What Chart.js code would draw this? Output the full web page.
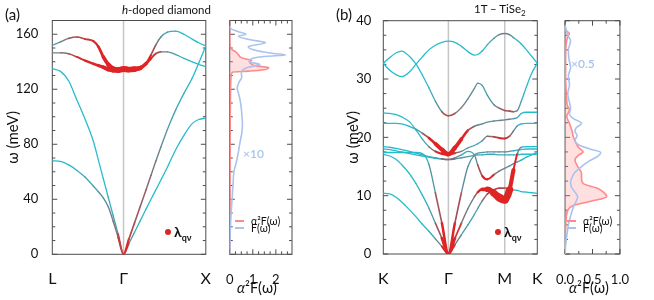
<!DOCTYPE html>
<html>
<head>
<meta charset="utf-8">
<script src="https://cdn.jsdelivr.net/npm/chart.js@4.4.0/dist/chart.umd.min.js"></script>
<style>
  html, body { margin: 0; padding: 0; background: #fff; }
  #fig { position: relative; width: 654px; height: 300px; overflow: hidden;
         font-family: Lato, "Noto Sans", sans-serif; color: #111; }
  #fig canvas { position: absolute; top: 0; }
  .lbl { position: absolute; white-space: nowrap; line-height: 1; z-index: 5; }
  .dot { position: absolute; width: 6px; height: 6px; border-radius: 50%; background: #dc2424; z-index: 5; }
  .key { position: absolute; height: 2px; width: 9px; z-index: 5; }
</style>
</head>
<body>
<div id="fig">
  <canvas id="bandA" width="220" height="300" style="left:0"></canvas>
  <canvas id="dosA"  width="90"  height="300" style="left:215px"></canvas>
  <canvas id="bandB" width="212" height="300" style="left:340px"></canvas>
  <canvas id="dosB"  width="95"  height="300" style="left:545px"></canvas>

  <div class="lbl" style="left:5px;top:7px;font-size:15px">(a)</div>
  <div class="lbl" style="left:122px;top:4px;font-size:11.5px"><i>h</i>-doped diamond</div>
  <div class="lbl" style="left:336px;top:7px;font-size:15px">(b)</div>
  <div class="lbl" style="left:474px;top:3px;font-size:11.5px">1T – TiSe<sub style="font-size:8px">2</sub></div>

  <div class="dot" style="left:165px;top:229px"></div>
  <div class="lbl" style="left:174px;top:225px;font-size:14px;font-weight:bold">λ<sub style="font-size:9px">qν</sub></div>
  <div class="dot" style="left:495px;top:229px"></div>
  <div class="lbl" style="left:504px;top:225px;font-size:14px;font-weight:bold">λ<sub style="font-size:9px">qν</sub></div>

  <div class="lbl" style="left:243px;top:148px;font-size:12px;color:#a9c3ee;font-weight:600">×10</div>
  <div class="lbl" style="left:571px;top:58px;font-size:12px;color:#a9c3ee;font-weight:600">×0.5</div>

  <div class="key" style="left:235px;top:220px;background:#ff8a8a"></div>
  <div class="lbl" style="left:251px;top:216px;font-size:10.5px">α²F(ω)</div>
  <div class="key" style="left:235px;top:227px;background:#a9c3ee"></div>
  <div class="lbl" style="left:251px;top:223px;font-size:10.5px">F(ω)</div>

  <div class="key" style="left:567px;top:220px;background:#ff8a8a"></div>
  <div class="lbl" style="left:583px;top:216px;font-size:10.5px">α²F(ω)</div>
  <div class="key" style="left:567px;top:227px;background:#a9c3ee"></div>
  <div class="lbl" style="left:583px;top:223px;font-size:10.5px">F(ω)</div>

  <div class="lbl" style="left:237px;top:281px;font-size:14.5px"><i>α</i>²F(ω)</div>
  <div class="lbl" style="left:569px;top:281px;font-size:14.5px"><i>α</i>²F(ω)</div>
</div>

<script>
'use strict';

/* ---- Panel (a): h-doped diamond, path L - Γ - X ---- */
const kPathA   = [0, 0.1, 0.2, 0.3, 0.4, 0.5, 0.56, 0.62, 0.68, 0.74, 0.8, 0.866,
                  0.93, 1.0, 1.07, 1.14, 1.2, 1.26, 1.32, 1.4, 1.5, 1.6, 1.7, 1.78, 1.866];
const kTicksA  = [0, 0.866, 1.866];
const kLabelsA = ['L', 'Γ', 'X'];

const taA = [68, 67.5, 65, 61, 56, 49.5, 45.5, 41, 34.5, 24, 12.5, 0,
             7.7, 16, 24.5, 33, 40, 47, 54, 63.5, 76, 86.5, 95, 98, 99];
const laA = [135, 133, 126, 112, 98, 82, 68.5, 55, 41.5, 28, 14.8, 0,
             11, 23, 35, 47, 57.5, 68, 78, 91, 105, 117, 128, 139, 151.5];
const toA = [146.5, 146.5, 145.8, 143.5, 140.8, 138.5, 137.3, 136, 134.5, 134, 134, 134.5,
             134.2, 134.5, 135.5, 138.5, 142.5, 146, 147.2, 147.2, 145.2, 142.5, 140, 138, 136.5];
const loA = [152, 154.5, 157, 158, 156.5, 155, 151, 143.5, 138, 135, 134, 135,
             134.5, 135, 135.5, 139, 145, 152.5, 158, 161.5, 162.3, 160, 156.5, 153.8, 151.5];

// electron-phonon coupling strength λqν along each branch
const lamTaA = [0, 0, 0, 0.02, 0.04, 0.06, 0.08, 0.1, 0.12, 0.15, 0.2, 0.45,
                0.15, 0.05, 0.02, 0, 0, 0, 0, 0, 0, 0, 0, 0, 0];
const lamLaA = [0, 0, 0, 0, 0, 0, 0, 0, 0.02, 0.05, 0.1, 0.45,
                0.3, 0.25, 0.22, 0.2, 0.18, 0.15, 0.12, 0.08, 0.05, 0.03, 0.01, 0, 0];
const lamToA = [0.1, 0.15, 0.22, 0.3, 0.38, 0.46, 0.55, 0.65, 0.75, 0.83, 0.88, 0.9,
                0.88, 0.83, 0.72, 0.55, 0.38, 0.28, 0.2, 0.12, 0.06, 0.02, 0, 0, 0];
const lamLoA = [0.05, 0.1, 0.2, 0.26, 0.3, 0.34, 0.45, 0.6, 0.72, 0.8, 0.85, 0.88,
                0.85, 0.78, 0.68, 0.48, 0.3, 0.2, 0.1, 0.05, 0.02, 0, 0, 0, 0];

/* ---- Panel (a) DOS ---- */
const a2fOmegaA = [0, 20, 40, 60, 80, 100, 115, 125, 130, 132.5, 133.2, 134, 135.7, 137,
                   138.9, 140, 141, 142, 143, 145, 147.4, 148.6, 151, 155, 170];
const a2fA      = [0, 0.005, 0.01, 0.01, 0.015, 0.02, 0.03, 0.04, 0.06, 0.12, 0.8, 1.4, 1.69, 1.15,
                   0.9, 0.85, 0.95, 0.7, 0.5, 0.38, 0.25, 0.11, 0.02, 0, 0];
const dosOmegaA = [0, 10, 20, 30, 40, 50, 60, 68, 75, 82, 88, 95, 100, 106, 112, 117, 121, 125,
                   129, 132, 134, 136, 138, 140, 142.5, 144, 145, 146, 148, 151, 153.8, 156,
                   158.6, 160, 162, 164, 166];
const dosA      = [0, 0.01, 0.03, 0.06, 0.1, 0.14, 0.18, 0.3, 0.38, 0.45, 0.52, 0.55, 0.53, 0.5,
                   0.45, 0.38, 0.32, 0.4, 0.52, 0.5, 0.55, 0.8, 1.3, 0.85, 1.0, 1.6, 2.42, 1.9,
                   1.2, 0.8, 1.55, 0.9, 0.38, 0.7, 0.35, 0.05, 0];

/* ---- Panel (b): 1T-TiSe2, path K - Γ - M - K ---- */
const kPathB   = [0, 0.1, 0.2, 0.283, 0.4, 0.5, 0.6, 0.7, 0.8, 0.9, 1.0, 1.1, 1.2, 1.3,
                  1.4, 1.45, 1.52, 1.6, 1.7, 1.78, 1.866, 1.94, 2.0, 2.06, 2.12, 2.2, 2.28, 2.366];
const kTicksB  = [0, 1.0, 1.866, 2.366];
const kLabelsB = ['K', 'Γ', 'M', 'K'];

const a2uB = [32.7, 31.5, 30.7, 30.4, 31.2, 32.5, 33.8, 35.0, 35.8, 36.3, 36.5, 36.3, 35.6, 34.7,
              34.1, 34.2, 34.8, 35.9, 37.0, 37.6, 37.8, 37.6, 37.1, 36.6, 36.0, 35.0, 33.9, 32.7];
const a1gB = [32.7, 33.7, 34.5, 34.8, 33.9, 32.6, 30.7, 28.5, 26.2, 24.4, 23.7, 24.1, 25.1, 26.6,
              28.4, 29.3, 28.9, 27.2, 25.6, 25.0, 24.6, 24.5, 24.4, 24.6, 26.2, 28.7, 31.0, 32.7];
const euaB = [22.4, 22.4, 22.4, 22.3, 21.9, 21.4, 20.7, 19.9, 18.9, 17.9, 17.1, 18.2, 19.7, 21.2,
              21.9, 22.1, 22.3, 22.6, 22.8, 22.9, 23.0, 23.1, 23.2, 23.4, 24.1, 24.3, 24.3, 24.3];
const eubB = [24.2, 24.1, 23.9, 23.5, 22.7, 21.3, 19.7, 18.4, 17.6, 17.2, 17.1, 17.3, 17.6, 18.2,
              18.6, 18.9, 19.4, 20.2, 20.1, 19.9, 19.8, 20.2, 21.1, 22.0, 22.3, 22.4, 22.4, 22.4];
const egaB = [18.4, 18.3, 18.1, 17.9, 17.6, 17.3, 17.0, 16.7, 16.5, 16.3, 16.2, 16.3, 16.5, 16.7,
              16.9, 17.0, 17.0, 17.1, 17.1, 17.0, 17.0, 17.0, 17.0, 17.0, 17.1, 17.1, 17.1, 17.1];
const egbB = [18.0, 17.9, 17.7, 17.5, 17.2, 17.0, 16.8, 16.6, 16.4, 16.3, 16.2, 16.5, 17.0, 17.6,
              17.0, 15.3, 13.4, 12.8, 13.6, 14.2, 14.7, 15.1, 15.5, 15.8, 16.1, 16.6, 17.0, 17.4];
const laB  = [17.4, 17.4, 17.4, 17.4, 17.4, 17.4, 17.2, 15.4, 10.5, 5.3, 0, 5.3, 10.5, 15.0,
              17.0, 17.3, 17.4, 17.5, 17.5, 17.5, 17.5, 17.6, 17.7, 17.8, 17.9, 18.0, 18.0, 18.0];
const ta2B = [17.1, 16.8, 16.2, 15.3, 13.8, 12.1, 10.1, 7.9, 5.3, 2.7, 0, 2.7, 5.3, 7.8,
              9.8, 10.6, 11.1, 11.1, 10.4, 9.7, 9.3, 11.0, 14.4, 17.2, 18.3, 18.4, 18.4, 18.4];
const ta1B = [10.4, 10.3, 9.7, 8.9, 7.6, 6.4, 5.1, 3.9, 2.6, 1.3, 0, 1.6, 3.3, 5.0,
              6.8, 7.8, 9.1, 10.3, 11.0, 11.3, 11.3, 11.2, 11.0, 10.9, 10.7, 10.6, 10.5, 10.4];

const lamA2uB = [0, 0, 0, 0, 0, 0, 0, 0, 0, 0, 0, 0, 0, 0,
                 0, 0, 0, 0.02, 0.06, 0.12, 0.18, 0.12, 0.06, 0.02, 0, 0, 0, 0];
const lamA1gB = [0, 0, 0, 0, 0, 0, 0, 0.02, 0.05, 0.15, 0.35, 0.2, 0.12, 0.12,
                 0.1, 0.1, 0.08, 0.06, 0.1, 0.18, 0.25, 0.25, 0.2, 0.12, 0.05, 0, 0, 0];
const lamEuaB = [0, 0, 0, 0, 0, 0.03, 0.12, 0.35, 0.6, 0.75, 0.8, 0.75, 0.6, 0.35,
                 0.15, 0.12, 0.1, 0.1, 0.1, 0.12, 0.15, 0.12, 0.1, 0.05, 0, 0, 0, 0];
const lamEubB = [0, 0, 0, 0, 0, 0, 0.02, 0.08, 0.25, 0.45, 0.6, 0.3, 0.12, 0.06,
                 0.05, 0.05, 0.08, 0.15, 0.25, 0.35, 0.35, 0.25, 0.12, 0.05, 0, 0, 0, 0];
const lamEgaB = [0, 0, 0, 0, 0, 0, 0, 0, 0.05, 0.15, 0.3, 0.15, 0.08, 0.08,
                 0.08, 0.06, 0.05, 0.05, 0.05, 0.05, 0.05, 0.03, 0, 0, 0, 0, 0, 0];
const lamEgbB = [0, 0, 0, 0, 0, 0, 0, 0, 0.03, 0.1, 0.25, 0.1, 0.05, 0.05,
                 0.08, 0.15, 0.35, 0.45, 0.25, 0.15, 0.12, 0.1, 0.08, 0.05, 0.03, 0, 0, 0];
const lamLaB  = [0, 0, 0, 0, 0, 0, 0, 0.05, 0.12, 0.35, 0.6, 0.35, 0.15, 0.08,
                 0.08, 0.08, 0.08, 0.08, 0.1, 0.12, 0.12, 0.1, 0.05, 0, 0, 0, 0, 0];
const lamTa2B = [0, 0, 0, 0, 0, 0, 0.02, 0.05, 0.12, 0.35, 0.7, 0.4, 0.2, 0.12,
                 0.15, 0.3, 0.55, 0.8, 1.0, 1.1, 1.15, 0.95, 0.5, 0.2, 0.05, 0, 0, 0];
const lamTa1B = [0, 0, 0, 0, 0, 0, 0, 0.02, 0.06, 0.2, 0.5, 0.2, 0.08, 0.05,
                 0.05, 0.08, 0.12, 0.25, 0.3, 0.28, 0.25, 0.15, 0.06, 0.02, 0, 0, 0, 0];

/* ---- Panel (b) DOS ---- */
const a2fOmegaB = [0, 2, 4, 6, 7.5, 8.3, 9.0, 9.8, 10.6, 11.3, 12.1, 13.0, 13.8, 15.0, 16.1, 17.0,
                   17.5, 18.2, 19.0, 20.1, 21.0, 22.4, 23.6, 24.7, 25.5, 26.4, 28, 30, 32, 34,
                   36, 37.3, 37.8, 38.4, 39];
const a2fB      = [0, 0.005, 0.01, 0.02, 0.05, 0.15, 0.45, 0.76, 0.7, 0.58, 0.33, 0.3, 0.3, 0.23,
                   0.18, 0.25, 0.33, 0.25, 0.2, 0.15, 0.13, 0.08, 0.03, 0.08, 0.04, 0.03, 0.02,
                   0.01, 0.01, 0.01, 0.02, 0.05, 0.08, 0.01, 0];
const dosOmegaB = [0, 1.5, 3, 5, 6.5, 8, 9, 9.8, 10.6, 11.4, 12.2, 13, 14, 15, 16, 16.8, 17.4, 18,
                   18.7, 19.5, 20.3, 21, 21.6, 22.4, 23.2, 24, 25, 26, 27.5, 29, 30.5, 32, 33.5,
                   35, 36.5, 37.5, 38.5, 39.3];
const dosB      = [0, 0.01, 0.03, 0.06, 0.1, 0.15, 0.2, 0.23, 0.18, 0.12, 0.1, 0.12, 0.18, 0.3,
                   0.45, 0.6, 0.65, 0.45, 0.25, 0.18, 0.22, 0.18, 0.2, 0.3, 0.15, 0.08, 0.1, 0.08,
                   0.05, 0.08, 0.06, 0.1, 0.07, 0.06, 0.1, 0.05, 0.02, 0];

/* ---- Styling ---- */
const CYAN = [38, 188, 204];
const RED  = [222, 36, 36];
const PINK = '#ff8a8a';
const PINK_FILL = 'rgba(255,150,150,0.3)';
const BLUE = '#a9c3ee';
const FONT = 'Lato, "Noto Sans", sans-serif';

Chart.defaults.font.family = FONT;
Chart.defaults.color = '#111';

function lamColor(l) {
  const t = Math.min(1, l / 0.35);
  const c = CYAN.map((v, i) => Math.round(v + (RED[i] - v) * t));
  return `rgb(${c.join(',')})`;
}

function lamWidth(l) {
  return 1.3 + 5.4 * l * l;
}

/* one phonon branch, coloured and thickened by λqν */
function branch(k, w, lam) {
  const avg = c => (lam[c.p0DataIndex] + lam[c.p1DataIndex]) / 2;
  return {
    data: k.map((x, i) => ({ x, y: w[i] })),
    borderColor: lamColor(0),
    borderWidth: 1.3,
    pointRadius: 0,
    cubicInterpolationMode: 'monotone',
    borderCapStyle: 'round',
    borderJoinStyle: 'round',
    segment: {
      borderColor: c => lamColor(avg(c)),
      borderWidth: c => lamWidth(avg(c)),
      borderCapStyle: 'round',
    },
  };
}

const isMultiple = (v, m) => Math.abs(v / m - Math.round(v / m)) < 1e-6;

/* frame, inward ticks and high-symmetry guide lines */
const axesFrame = {
  id: 'axesFrame',
  beforeDatasetsDraw(chart, args, o) {
    const { ctx, chartArea: a, scales: { x, y } } = chart;
    ctx.save();
    ctx.lineWidth = 1.5;
    ctx.strokeStyle = '#c6c6c6';
    for (const v of o.guides || []) {
      const px = x.getPixelForValue(v);
      ctx.beginPath();
      ctx.moveTo(px, a.top);
      ctx.lineTo(px, a.bottom);
      ctx.stroke();
    }
    ctx.lineWidth = 1;
    ctx.strokeStyle = '#4d4d4d';
    ctx.strokeRect(a.left, a.top, a.right - a.left, a.bottom - a.top);
    ctx.beginPath();
    for (let v = y.min; v <= y.max + 1e-9; v += o.yStep) {
      const py = y.getPixelForValue(v);
      const len = isMultiple(v, o.yMajor) ? 5 : 3;
      ctx.moveTo(a.left, py);  ctx.lineTo(a.left + len, py);
      ctx.moveTo(a.right, py); ctx.lineTo(a.right - len, py);
    }
    if (o.xStep) {
      for (let v = x.min; v <= x.max + 1e-9; v += o.xStep) {
        const px = x.getPixelForValue(v);
        const len = isMultiple(v, o.xMajor) ? 5 : 3;
        ctx.moveTo(px, a.top);    ctx.lineTo(px, a.top + len);
        ctx.moveTo(px, a.bottom); ctx.lineTo(px, a.bottom - len);
      }
    }
    ctx.stroke();
    ctx.restore();
  },
};

function bandChart(id, cfg) {
  return new Chart(document.getElementById(id), {
    type: 'line',
    data: { datasets: cfg.datasets },
    options: {
      responsive: false,
      animation: false,
      events: [],
      layout: { padding: cfg.padding },
      plugins: {
        legend: { display: false },
        tooltip: { enabled: false },
        axesFrame: { guides: cfg.guides, yStep: cfg.yStep, yMajor: cfg.yMajor },
      },
      scales: {
        x: {
          type: 'linear', min: 0, max: cfg.kMax,
          grid: { display: false }, border: { display: false },
          afterBuildTicks: s => { s.ticks = cfg.kTicks.map(v => ({ value: v })); },
          afterFit: s => { s.height = cfg.xHeight; },
          ticks: {
            autoSkip: false, maxRotation: 0, padding: 9, color: '#111',
            font: { size: 16, lineHeight: 1 },
            callback: (v, i) => cfg.kLabels[i],
          },
        },
        y: {
          type: 'linear', min: 0, max: cfg.wMax,
          grid: { display: false }, border: { display: false },
          afterFit: s => { s.width = cfg.yWidth; },
          title: { display: true, text: 'ω (meV)', color: '#111', font: { size: 15 }, padding: { top: 4, bottom: 0 } },
          ticks: {
            stepSize: cfg.yStep, autoSkip: false, padding: cfg.yPad, color: '#111',
            font: { size: 13 },
            callback: v => (isMultiple(v, cfg.yMajor) ? v : ''),
          },
        },
      },
    },
    plugins: [axesFrame],
  });
}

function dosChart(id, cfg) {
  const pts = (om, val) => om.map((w, i) => ({ x: val[i], y: w }));
  return new Chart(document.getElementById(id), {
    type: 'line',
    data: {
      datasets: [
        { data: pts(cfg.dosOmega, cfg.dos), borderColor: BLUE, borderWidth: 1.6,
          pointRadius: 0, fill: false, cubicInterpolationMode: 'monotone' },
        { data: pts(cfg.a2fOmega, cfg.a2f), borderColor: PINK, backgroundColor: PINK_FILL,
          borderWidth: 1.6, pointRadius: 0, fill: 'origin', cubicInterpolationMode: 'monotone' },
      ],
    },
    options: {
      indexAxis: 'y',
      responsive: false,
      animation: false,
      events: [],
      layout: { padding: cfg.padding },
      plugins: {
        legend: { display: false },
        tooltip: { enabled: false },
        axesFrame: { yStep: cfg.yStep, yMajor: cfg.yMajor, xStep: cfg.xStep, xMajor: cfg.xMajor },
      },
      scales: {
        x: {
          type: 'linear', min: 0, max: cfg.xMax,
          grid: { display: false }, border: { display: false },
          afterFit: s => { s.height = cfg.xHeight; },
          ticks: {
            stepSize: cfg.xMajor, includeBounds: false, autoSkip: false, maxRotation: 0,
            padding: 11, color: '#111', font: { size: 13, lineHeight: 1 },
            callback: v => v.toFixed(cfg.xDigits),
          },
        },
        y: { type: 'linear', min: 0, max: cfg.wMax, display: false },
      },
    },
    plugins: [axesFrame],
  });
}

/* ---- Build ---- */
bandChart('bandA', {
  datasets: [
    branch(kPathA, toA, lamToA),
    branch(kPathA, loA, lamLoA),
    branch(kPathA, laA, lamLaA),
    branch(kPathA, taA, lamTaA),
  ],
  padding: { top: 20.5, right: 13.3, left: 0, bottom: 0 },
  kMax: 1.866, kTicks: kTicksA, kLabels: kLabelsA, guides: [0.866],
  wMax: 170, yStep: 10, yMajor: 40, yWidth: 52.3, yPad: 6, xHeight: 45.7,
});

dosChart('dosA', {
  a2fOmega: a2fOmegaA, a2f: a2fA, dosOmega: dosOmegaA, dos: dosA,
  padding: { top: 20.5, right: 13, left: 12.3, bottom: 0 },
  xMax: 2.7, xStep: 0.25, xMajor: 1, xDigits: 0,
  wMax: 170, yStep: 10, yMajor: 40, xHeight: 45.7,
});

bandChart('bandB', {
  datasets: [
    branch(kPathB, ta2B, lamTa2B),
    branch(kPathB, euaB, lamEuaB),
    branch(kPathB, ta1B, lamTa1B),
    branch(kPathB, laB, lamLaB),
    branch(kPathB, eubB, lamEubB),
    branch(kPathB, egbB, lamEgbB),
    branch(kPathB, egaB, lamEgaB),
    branch(kPathB, a1gB, lamA1gB),
    branch(kPathB, a2uB, lamA2uB),
  ],
  padding: { top: 20.7, right: 14.7, left: 0, bottom: 0 },
  kMax: 2.366, kTicks: kTicksB, kLabels: kLabelsB, guides: [1.0, 1.866],
  wMax: 40, yStep: 2.5, yMajor: 10, yWidth: 43.3, yPad: 4, xHeight: 46,
});

dosChart('dosB', {
  a2fOmega: a2fOmegaB, a2f: a2fB, dosOmega: dosOmegaB, dos: dosB,
  padding: { top: 20.7, right: 15.7, left: 13.3, bottom: 0 },
  xMax: 1.0, xStep: 0.25, xMajor: 0.5, xDigits: 1,
  wMax: 40, yStep: 2.5, yMajor: 10, xHeight: 46,
});
</script>
</body>
</html>
